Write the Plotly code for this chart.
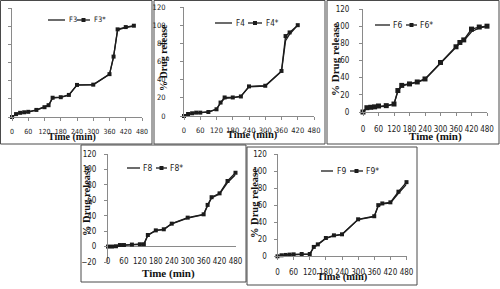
import plotly.graph_objects as go

W, H = 500, 289

# ---------------- data ----------------
time3 = [0, 15, 30, 45, 60, 90, 120, 135, 150, 180, 210, 240, 300, 360, 375, 390, 420, 450]
F3 = [0, 3, 4.5, 5, 5.5, 7.5, 10.5, 12.5, 21, 21.5, 24, 35, 35.5, 47, 66, 96, 98.5, 100]
F3s = [0, 3.2, 4.6, 5.2, 5.7, 7.8, 10.8, 13, 21.2, 21.8, 24.3, 35.3, 35.6, 47.2, 66.5, 96.5, 99, 100.5]

time4 = [0, 15, 30, 45, 60, 90, 120, 135, 150, 180, 210, 240, 300, 360, 375, 390, 420]
F4 = [0, 2, 3, 3.5, 3.5, 4.5, 7.5, 14.5, 19.5, 20, 21.5, 32, 33, 49, 83, 90, 100]
F4s = [0, 2.2, 3, 3.7, 3.7, 4.4, 7.4, 14.8, 20.4, 20.4, 21.5, 32.6, 33.3, 49.6, 88, 92, 100]

time6 = [0, 15, 30, 45, 60, 90, 120, 135, 150, 180, 210, 240, 300, 360, 375, 390, 420, 450, 480]
F6 = [0, 4.5, 5, 5.5, 6.5, 7, 9, 24, 30.5, 32.5, 34.5, 38, 57, 75, 80, 83, 93.5, 98, 99.5]
F6s = [0, 5, 5.5, 6, 7, 7.4, 9.3, 25, 31, 32.7, 35, 38.5, 57.7, 76, 81, 84, 96.6, 99, 100]

time8 = [0, 15, 30, 45, 60, 90, 120, 135, 150, 180, 210, 240, 300, 360, 375, 390, 420, 450, 480]
F8 = [0, 0, 0.5, 1.5, 1.5, 2.5, 3, 3, 14.5, 21, 22, 29.5, 37, 41.5, 53, 63, 68, 83, 93]
F8s = [0, 0, 0.4, 2, 2, 2.6, 3, 3, 15, 21, 22.4, 29.7, 37.5, 41.8, 54, 64, 69, 85, 95.7]

time9 = [0, 15, 30, 45, 60, 90, 120, 135, 150, 180, 210, 240, 300, 360, 375, 390, 420, 450, 480]
F9 = [0, 1, 1.5, 1.8, 2, 2.5, 2.5, 10.5, 13.5, 21, 24, 25.5, 43, 46.5, 59, 61.5, 62.5, 74, 84.5]
F9s = [0, 1.2, 1.6, 2, 2.3, 2.7, 2.7, 11, 14, 21.5, 24.6, 25.8, 43.4, 47, 60, 62, 63.3, 75.8, 87]

x_ticks = [0, 60, 120, 180, 240, 300, 360, 420, 480]

series = [
    ("F3", "F3*", time3, F3, F3s),
    ("F4", "F4*", time4, F4, F4s),
    ("F6", "F6*", time6, F6, F6s),
    ("F8", "F8*", time8, F8, F8s),
    ("F9", "F9*", time9, F9, F9s),
]

# ---------------- layout geometry (pixels) ----------------
def fx(x):
    return x / W

def fy(y):
    return 1 - y / H

panels = [
    dict(px=(12, 142), py=(8, 117), yr=(0, 120), tf=7, ytitle=None, xt=(72, 137, 10),
         box=(0.5, 0.5, 152, 144), leg=(20, 48, 65, 67, 77, 90, 92), ms=4, ylab=9, xlab=5),
    dict(px=(184, 314), py=(7, 116), yr=(0, 120), tf=7.5, ytitle=(164, 58, 10), xt=(252, 135, 10.5),
         box=(154, 0.5, 325, 144), leg=(23, 215, 232, 234, 248, 262, 264), ms=4, ylab=13, xlab=4),
    dict(px=(363, 487), py=(9, 112), yr=(0, 120), tf=8, ytitle=(335, 60, 11), xt=(435, 137, 11),
         box=(327, 0.5, 499, 144), leg=(25, 375, 390, 391, 406, 417, 418), ms=5, ylab=8, xlab=6),
    dict(px=(108, 235.5), py=(154, 262), yr=(-20, 120), tf=8, ytitle=(86, 201, 10.5), xt=(168, 273, 11),
         box=(81, 145, 246, 282), leg=(168, 127, 140, 141, 156, 167, 168), ms=4, ylab=6, xlab=None),
    dict(px=(277.5, 406.5), py=(154, 256.3), yr=(0, 120), tf=8, ytitle=(254, 203, 10.5), xt=(342, 277, 10.5),
         box=(247, 147, 417, 285), leg=(171, 321, 333, 335, 350, 363, 364), ms=4, ylab=5, xlab=5),
]

LINE = "#1c1c1c"
AX = "#8a8a8a"
TICKFONT = "Liberation Sans Narrow, Arial Narrow, DejaVu Sans Condensed, Liberation Sans, Arial"
SERIF = "Liberation Serif, Times New Roman, serif"

fig = go.Figure()
layout = dict(width=W, height=H, margin=dict(l=0, r=0, t=0, b=0, pad=0), autosize=False,
              paper_bgcolor="white", plot_bgcolor="white", showlegend=False, template="none")
shapes = []
annotations = []

for i, (p, (n1, n2, t, a, b)) in enumerate(zip(panels, series), start=1):
    xa = "x" if i == 1 else f"x{i}"
    ya = "y" if i == 1 else f"y{i}"
    fig.add_trace(go.Scatter(x=t, y=b, name=n2, mode="lines+markers", xaxis=xa, yaxis=ya,
                             line=dict(color=LINE, width=1.3), cliponaxis=False,
                             marker=dict(symbol="square", size=p["ms"], color=LINE)))
    fig.add_trace(go.Scatter(x=t, y=a, name=n1, mode="lines", xaxis=xa, yaxis=ya,
                             line=dict(color=LINE, width=1.3), cliponaxis=False))

    xkey = "xaxis" if i == 1 else f"xaxis{i}"
    ykey = "yaxis" if i == 1 else f"yaxis{i}"
    xd = [fx(p["px"][0]), fx(p["px"][1])]
    yd = [fy(p["py"][1]), fy(p["py"][0])]
    xaxis = dict(domain=xd, range=[0, 480], tickvals=x_ticks, showgrid=False, zeroline=False,
                 showline=True, linecolor=AX, linewidth=1, ticks="outside", ticklen=3, tickcolor=AX,
                 tickangle=0, automargin=False,
                 tickfont=dict(family=TICKFONT, size=p["tf"], color="#222"), fixedrange=True)
    if p["xlab"] is not None:
        xaxis["anchor"] = ya
        xaxis["ticklabelstandoff"] = p["xlab"]
    else:
        xaxis["anchor"] = "free"
        xaxis["position"] = fy(p["py"][1] - 7)
        xaxis["showline"] = False
        xaxis["ticks"] = ""
    yaxis = dict(domain=yd, range=list(p["yr"]), dtick=20, showgrid=False,
                 zeroline=(p["yr"][0] < 0), zerolinecolor=AX, zerolinewidth=1,
                 showline=True, linecolor=AX, linewidth=1, ticks="outside", ticklen=3, tickcolor=AX,
                 ticklabelstandoff=p["ylab"], automargin=False,
                 tickfont=dict(family=TICKFONT, size=p["tf"], color="#222"), anchor=xa, fixedrange=True)
    layout[xkey] = xaxis
    layout[ykey] = yaxis

    x0, y0, x1, y1 = p["box"]
    shapes.append(dict(type="rect", xref="paper", yref="paper", x0=fx(x0), x1=fx(x1), y0=fy(y1), y1=fy(y0),
                       line=dict(color="#4a4a4a", width=1), layer="below"))

    if p["ytitle"] is not None:
        tx, ty, ts = p["ytitle"]
        annotations.append(dict(text="<b>% Drug release</b>", x=fx(tx), y=fy(ty), xref="paper", yref="paper",
                                textangle=-90, showarrow=False, xanchor="center", yanchor="middle",
                                font=dict(family=SERIF, size=ts, color="#111")))
    tx, ty, ts = p["xt"]
    annotations.append(dict(text="<b>Time (min)</b>", x=fx(tx), y=fy(ty), xref="paper", yref="paper",
                            showarrow=False, xanchor="center", yanchor="middle",
                            font=dict(family=SERIF, size=ts, color="#111")))

    ly, s1a, s1b, t1, s2a, s2b, t2 = p["leg"]
    shapes.append(dict(type="line", xref="paper", yref="paper", x0=fx(s1a), x1=fx(s1b), y0=fy(ly), y1=fy(ly),
                       line=dict(color=LINE, width=1.3)))
    shapes.append(dict(type="line", xref="paper", yref="paper", x0=fx(s2a), x1=fx(s2b), y0=fy(ly), y1=fy(ly),
                       line=dict(color=LINE, width=1.3)))
    mx = (s2a + s2b) / 2
    shapes.append(dict(type="rect", xref="paper", yref="paper", x0=fx(mx - 2), x1=fx(mx + 2),
                       y0=fy(ly + 2), y1=fy(ly - 2), line=dict(width=0), fillcolor=LINE))
    annotations.append(dict(text=n1, x=fx(t1), y=fy(ly), xref="paper", yref="paper", showarrow=False,
                            xanchor="left", yanchor="middle",
                            font=dict(family=TICKFONT, size=p["tf"] + 0.5, color="#222")))
    annotations.append(dict(text=n2, x=fx(t2), y=fy(ly), xref="paper", yref="paper", showarrow=False,
                            xanchor="left", yanchor="middle",
                            font=dict(family=TICKFONT, size=p["tf"] + 0.5, color="#222")))

layout["shapes"] = shapes
layout["annotations"] = annotations
fig.update_layout(**layout)
fig.write_html("out.html", config={"displayModeBar": False, "staticPlot": True},
               post_script="document.body.style.margin='0';document.body.style.overflow='hidden';")
